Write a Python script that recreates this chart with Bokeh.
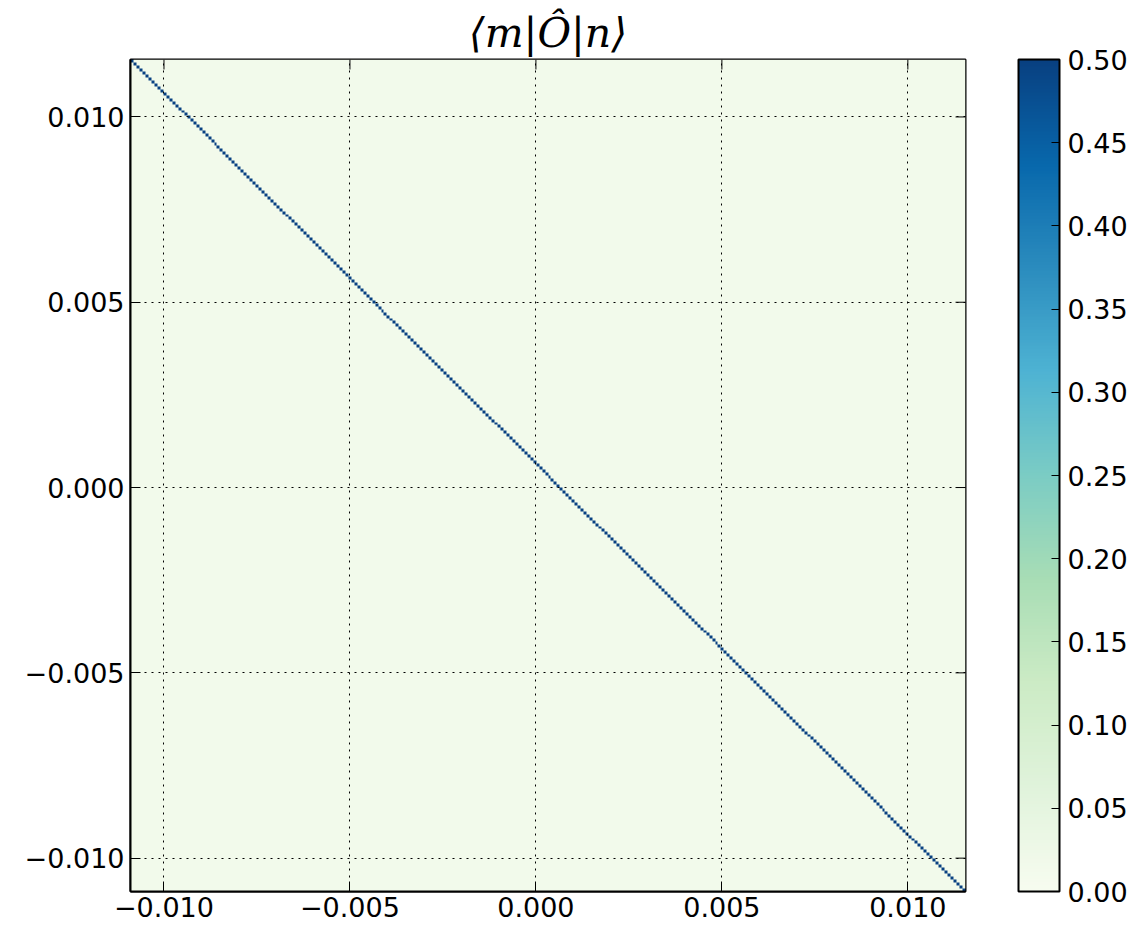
import numpy as np
from bokeh.plotting import figure
from bokeh.models import (LinearColorMapper, ColorBar, FixedTicker,
                          Range1d, CustomJSTickFormatter, PrintfTickFormatter,
                          ColumnDataSource)
from bokeh.palettes import GnBu9
from bokeh.embed import file_html
from bokeh.resources import INLINE

# ---- data ----
x_extent = [-0.0109, 0.01155]
y_extent = [-0.0109, 0.01155]
n_cells = 280
diagonal_value = 0.5
offdiag_value = 0.015
axis_ticks = [-0.010, -0.005, 0.000, 0.005, 0.010]
cbar_ticks = [0.00, 0.05, 0.10, 0.15, 0.20, 0.25, 0.30, 0.35, 0.40, 0.45, 0.50]
cbar_range = [0.0, 0.5]
title_text = "⟨m|Ô|n⟩"

# matrix: diagonal elements running from top-left to bottom-right
M = np.full((n_cells, n_cells), offdiag_value)
M[np.arange(n_cells), n_cells - 1 - np.arange(n_cells)] = diagonal_value

# GnBu colormap interpolated to 256 colours (light -> dark)
base = list(reversed(GnBu9))
rgb = np.array([[int(c[i:i + 2], 16) for i in (1, 3, 5)] for c in base], float)
pos = np.linspace(0, 1, len(base))
t = np.linspace(0, 1, 256)
palette = ["#%02x%02x%02x" % tuple(int(round(np.interp(v, pos, rgb[:, k]))) for k in range(3)) for v in t]

mapper = LinearColorMapper(palette=palette, low=cbar_range[0], high=cbar_range[1])

FONT = "DejaVu Sans"
TICK_PX = "27px"

p = figure(width=1135, height=928,
           x_range=Range1d(*x_extent), y_range=Range1d(*y_extent),
           output_backend="svg", toolbar_location=None,
           min_border_left=130, min_border_top=59, min_border_bottom=37,
           min_border_right=170)
p.background_fill_color = "white"
p.border_fill_color = "white"

p.image(image=[M], x=x_extent[0], y=y_extent[0],
        dw=x_extent[1] - x_extent[0], dh=y_extent[1] - y_extent[0],
        color_mapper=mapper)

# inward ticks on the top and right edges (matplotlib-style mirrored ticks)
top_src = ColumnDataSource(dict(x=axis_ticks, y=[y_extent[1]] * len(axis_ticks)))
right_src = ColumnDataSource(dict(x=[x_extent[1]] * len(axis_ticks), y=axis_ticks))
p.ray(x="x", y="y", source=top_src, length=10, length_units="screen",
      angle=-np.pi / 2, line_color="black", line_width=1)
p.ray(x="x", y="y", source=right_src, length=10, length_units="screen",
      angle=np.pi, line_color="black", line_width=1)

fmt = CustomJSTickFormatter(code="return (tick < -1e-12 ? '\u2212' : '') + Math.abs(tick).toFixed(3);")

for ax in (p.xaxis[0], p.yaxis[0]):
    ax.ticker = FixedTicker(ticks=axis_ticks)
    ax.formatter = fmt
    ax.major_label_text_font = FONT
    ax.major_label_text_font_size = TICK_PX
    ax.major_label_text_color = "black"
    ax.major_tick_in = 10
    ax.major_tick_out = 0
    ax.major_tick_line_color = "black"
    ax.minor_tick_line_color = None
    ax.axis_line_color = "black"
    ax.axis_line_width = 2
p.xaxis[0].major_label_standoff = 5
p.yaxis[0].major_label_standoff = 6

p.xgrid.ticker = FixedTicker(ticks=axis_ticks)
p.ygrid.ticker = FixedTicker(ticks=axis_ticks)
p.grid.grid_line_color = "black"
p.grid.grid_line_dash = "2 5"
p.grid.grid_line_width = 1
p.grid.level = "overlay"

p.outline_line_color = "black"
p.outline_line_width = 2

p.title.text = title_text
p.title.align = "center"
p.title.text_font = "DejaVu Serif"
p.title.text_font_style = "italic"
p.title.text_font_size = "41px"
p.title.text_color = "black"
p.title.standoff = 5

cb = ColorBar(color_mapper=mapper, ticker=FixedTicker(ticks=cbar_ticks),
              formatter=PrintfTickFormatter(format="%.2f"),
              orientation="vertical", width=41, height=832,
              padding=0, margin=0, location=(53, 0),
              border_line_color=None, background_fill_color=None,
              bar_line_color="black", bar_line_width=2,
              major_tick_in=8, major_tick_out=0, major_tick_line_color="black",
              minor_tick_line_color=None,
              label_standoff=8, major_label_text_font=FONT,
              major_label_text_font_size=TICK_PX, major_label_text_color="black")
p.add_layout(cb, "right")

open("out.html", "w").write(file_html(p, INLINE))
